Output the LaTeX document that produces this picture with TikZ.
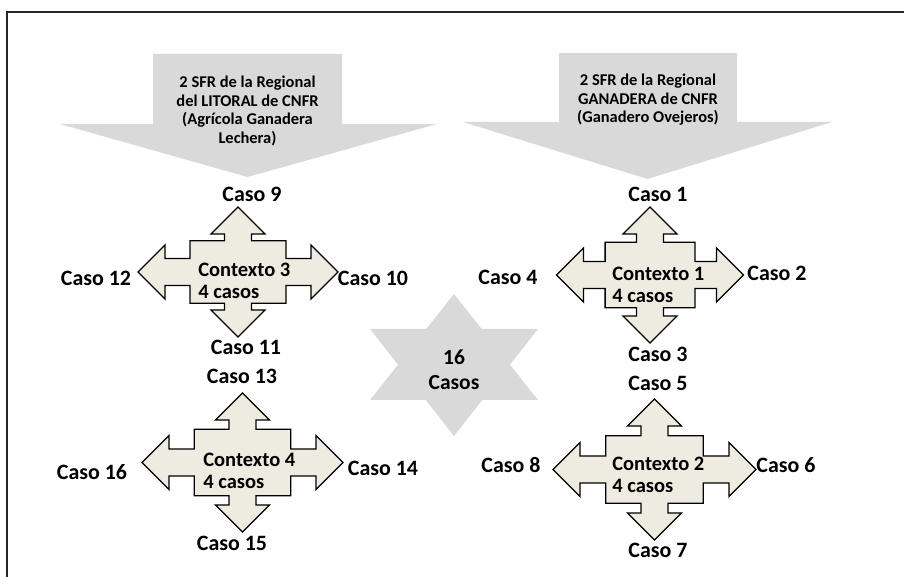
\documentclass[tikz,border=0pt]{standalone}
\usepackage{fontspec}
\setmainfont{Carlito}
\definecolor{boxGray}{HTML}{D9D9D9}
\definecolor{crossFill}{HTML}{EEECE1}
\tikzset{
  qarrow/.style={draw=black, fill=crossFill, line width=0.9pt, line join=miter},
  caso/.style={inner sep=0pt, font=\bfseries\fontsize{15.6}{18}\selectfont},
  ctx/.style={inner sep=0pt, anchor=west, align=left, font=\bfseries\fontsize{14.6}{15.6}\selectfont},
  region/.style={inner sep=0pt, align=center, font=\bfseries\fontsize{11.7}{13.2}\selectfont}
}
% quad arrow: (centre)(half width:half height)
\def\quadarrow(#1,#2)(#3:#4){%
  \begin{scope}[shift={(#1,#2)}]
    \pgfmathsetmacro\qw{#3}\pgfmathsetmacro\qh{#4}
    \pgfmathsetmacro\qbw{0.48*#3}\pgfmathsetmacro\qbh{0.48*#4}
    \pgfmathsetmacro\qhx{#3-27}\pgfmathsetmacro\qhy{#4-27}
    \draw[qarrow] (0,-\qh) -- (27,-\qhy) -- (13.5,-\qhy) -- (13.5,-\qbh) -- (\qbw,-\qbh) -- (\qbw,-13.5)
      -- (\qhx,-13.5) -- (\qhx,-27) -- (\qw,0) -- (\qhx,27) -- (\qhx,13.5) -- (\qbw,13.5)
      -- (\qbw,\qbh) -- (13.5,\qbh) -- (13.5,\qhy) -- (27,\qhy) -- (0,\qh) -- (-27,\qhy)
      -- (-13.5,\qhy) -- (-13.5,\qbh) -- (-\qbw,\qbh) -- (-\qbw,13.5) -- (-\qhx,13.5) -- (-\qhx,27)
      -- (-\qw,0) -- (-\qhx,-27) -- (-\qhx,-13.5) -- (-\qbw,-13.5) -- (-\qbw,-\qbh) -- (-13.5,-\qbh)
      -- (-13.5,-\qhy) -- (-27,-\qhy) -- cycle;
  \end{scope}}

\begin{document}
\begin{tikzpicture}[x=0.025cm, y=-0.025cm]
  %%%%% START %%%%%
  \useasboundingbox (0,0) rectangle (904,577);

  \draw[line width=1.1pt, black!85] (7,590) -- (7,12) -- (920,12);

  % regional arrows
  \fill[boxGray] (153,54) -- (342,54) -- (342,124) -- (437,124) -- (247.5,177) -- (60,124) -- (153,124) -- cycle;
  \fill[boxGray] (559,53) -- (737,53) -- (737,122) -- (832,122) -- (647.5,179) -- (463,122) -- (559,122) -- cycle;
  \node[region] (litoral) at (247.5,111) {2 SFR de la Regional\\del LITORAL de CNFR\\(Agrícola Ganadera\\Lechera)};
  \node[region] (ganadera) at (648,100) {2 SFR de la Regional\\GANADERA de CNFR\\(Ganadero Ovejeros)};

  % star
  \fill[boxGray] (454,294) -- (538,400) -- (370,400) -- cycle;
  \fill[boxGray] (454,436) -- (370,329) -- (538,329) -- cycle;
  \node[caso, align=center, font=\bfseries\fontsize{15.3}{17.8}\selectfont] (total) at (454,369.5) {16\\Casos};

  % contexts
  \quadarrow(650,275)(93.5:68)
  \quadarrow(654.5,469.5)(101.5:70.5)
  \quadarrow(238,272)(100:65)
  \quadarrow(242.5,462.5)(100.5:69.5)

  \node[ctx] (ctx1) at (612,285) {Contexto 1\\4 casos};
  \node[ctx] (ctx2) at (612,475) {Contexto 2\\4 casos};
  \node[ctx] (ctx3) at (198,280.5) {Contexto 3\\4 casos};
  \node[ctx] (ctx4) at (203,471) {Contexto 4\\4 casos};

  % cases
  \node[caso] (c1) at (658,194) {Caso 1};
  \node[caso] (c2) at (777,273) {Caso 2};
  \node[caso] (c3) at (658,354) {Caso 3};
  \node[caso] (c4) at (508,277) {Caso 4};
  \node[caso] (c5) at (658,383) {Caso 5};
  \node[caso] (c6) at (786,465) {Caso 6};
  \node[caso] (c7) at (658,550) {Caso 7};
  \node[caso] (c8) at (511,465) {Caso 8};
  \node[caso] (c9) at (252,194) {Caso 9};
  \node[caso] (c10) at (373,278) {Caso 10};
  \node[caso] (c11) at (246,347) {Caso 11};
  \node[caso] (c12) at (96,278) {Caso 12};
  \node[caso] (c13) at (242,376) {Caso 13};
  \node[caso] (c14) at (383,468) {Caso 14};
  \node[caso] (c15) at (232,543) {Caso 15};
  \node[caso] (c16) at (92,472) {Caso 16};

  %%%%% END %%%%%
\end{tikzpicture}
\end{document}
